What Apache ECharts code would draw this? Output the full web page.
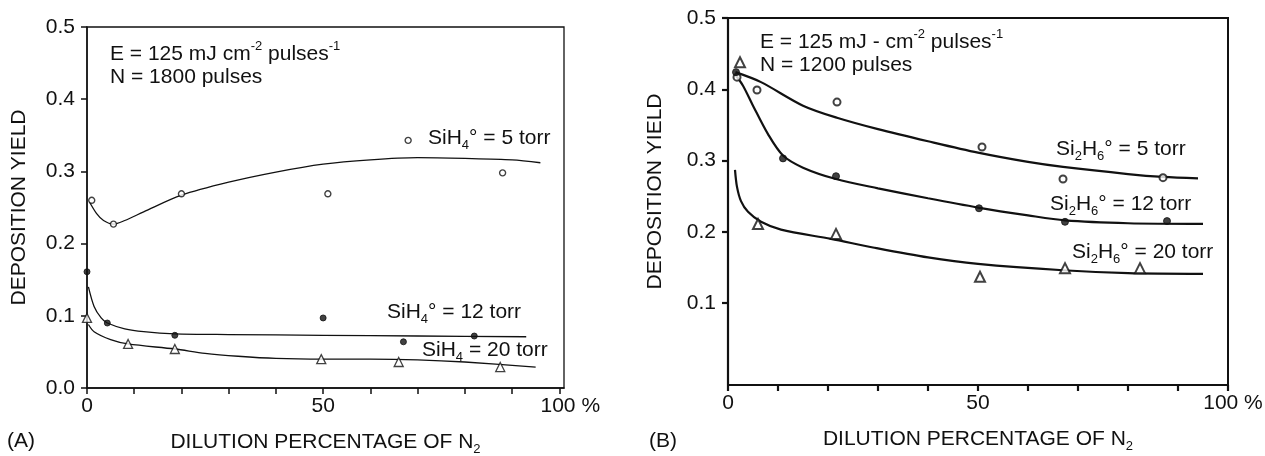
<!DOCTYPE html>
<html>
<head>
<meta charset="utf-8">
<script src="https://cdn.jsdelivr.net/npm/echarts@6/dist/echarts.min.js"></script>
<style>
  html, body { margin: 0; padding: 0; background: #fff; }
  #chart { width: 1265px; height: 456px; }
</style>
</head>
<body>
<div id="chart"></div>
<script>
// tick values
const xTicks = [0, 10, 20, 30, 40, 50, 60, 70, 80, 90, 100];
const xLabels = [0, 50, 100];
const yTicksA = [0, 0.1, 0.2, 0.3, 0.4, 0.5];
const yTicksB = [0.1, 0.2, 0.3, 0.4, 0.5];

// panel A - SiH4 (measured points and fitted curves)
const a5Pts = [[1, 0.260], [5.6, 0.227], [20, 0.269], [51, 0.269], [68, 0.343], [88, 0.298]];
const a5Fit = [[0.5, 0.258], [2, 0.242], [3.5, 0.232], [5.6, 0.227], [8, 0.232], [12, 0.244], [20, 0.267],
  [30, 0.285], [40, 0.299], [50, 0.310], [60, 0.316], [70, 0.319], [80, 0.318], [90, 0.316], [96, 0.312]];
const a12Pts = [[0, 0.161], [4.3, 0.090], [18.6, 0.073], [50, 0.097], [67, 0.064], [82, 0.072]];
const a12Fit = [[0.3, 0.140], [1.5, 0.113], [3, 0.097], [4.3, 0.090], [8, 0.082], [12, 0.078],
  [18.6, 0.075], [30, 0.074], [50, 0.073], [70, 0.072], [93, 0.071]];
const a20Pts = [[0, 0.097], [8.7, 0.061], [18.6, 0.054], [49.6, 0.040], [66, 0.036], [87.5, 0.029]];
const a20Fit = [[0.3, 0.088], [1.5, 0.078], [5, 0.067], [8.7, 0.061], [18.6, 0.054], [25, 0.048],
  [32, 0.044], [40, 0.041], [50, 0.040], [60, 0.040], [70, 0.039], [80, 0.036], [95, 0.029]];

// panel B - Si2H6
const b5Pts = [[1.8, 0.417], [5.8, 0.399], [21.8, 0.382], [50.8, 0.319], [67, 0.274], [87, 0.276]];
const b5Fit = [[1.5, 0.424], [6.6, 0.410], [15, 0.377], [21.8, 0.360], [30, 0.344], [40, 0.327],
  [50, 0.311], [60, 0.298], [67, 0.291], [80, 0.281], [87, 0.277], [94, 0.275]];
const b12Pts = [[1.6, 0.424], [11, 0.303], [21.6, 0.278], [50.2, 0.233], [67.4, 0.214], [87.8, 0.215]];
const b12Fit = [[1.5, 0.420], [3, 0.405], [5, 0.377], [8, 0.337], [11, 0.307], [15, 0.290], [21.6, 0.274],
  [30, 0.261], [40, 0.247], [50, 0.234], [60, 0.223], [67.4, 0.216], [80, 0.212], [95, 0.211]];
const b20Pts = [[2.4, 0.438], [6, 0.211], [21.6, 0.197], [50.4, 0.137], [67.4, 0.149], [82.4, 0.149]];
const b20Fit = [[1.4, 0.287], [1.8, 0.263], [2.6, 0.243], [4, 0.228], [6.6, 0.214], [10.6, 0.203],
  [20.6, 0.190], [29, 0.178], [40, 0.164], [50, 0.155], [67, 0.146], [80, 0.142], [95, 0.141]];

const INK = '#111';
const FONT = 'Liberation Sans, Arial, sans-serif';
const FS = 21;

const rich = {
  b: { fontSize: FS, lineHeight: 28, fontFamily: FONT, color: INK },
  sup: { fontSize: 13, lineHeight: 17, verticalAlign: 'top', fontFamily: FONT, color: INK },
  sub: { fontSize: 13, lineHeight: 8, verticalAlign: 'bottom', fontFamily: FONT, color: INK }
};

function note(x, y, text) {
  return {
    type: 'text', x: x, y: y, z: 10,
    style: { text: text, rich: rich, verticalAlign: 'middle', fontSize: FS, fontFamily: FONT, fill: INK }
  };
}

function fitLine(idx, data, w) {
  return {
    type: 'line', xAxisIndex: idx, yAxisIndex: idx, data: data, smooth: 0.3,
    showSymbol: false, lineStyle: { color: INK, width: w }, silent: true, z: 2
  };
}

function pts(idx, data, symbol, size, fill, bw) {
  return {
    type: 'scatter', xAxisIndex: idx, yAxisIndex: idx, data: data, symbol: symbol,
    symbolSize: size, itemStyle: { color: fill, borderColor: INK, borderWidth: bw }, z: 5
  };
}

function xAxisOf(gi, max, lw, pctPad) {
  return {
    type: 'value', gridIndex: gi, min: 0, max: max,
    name: '{n|DILUTION PERCENTAGE OF N}{s|2}', nameLocation: 'middle', nameGap: 40,
    nameTextStyle: {
      fontSize: FS, fontFamily: FONT, color: INK,
      rich: {
        n: { fontSize: FS, lineHeight: 28, fontFamily: FONT, color: INK },
        s: { fontSize: 13, lineHeight: 8, verticalAlign: 'bottom', fontFamily: FONT, color: INK }
      }
    },
    axisLine: { onZero: false, lineStyle: { color: INK, width: lw } },
    axisTick: { customValues: xTicks, length: 6, lineStyle: { color: INK, width: lw } },
    axisLabel: {
      customValues: xLabels, margin: 8, fontSize: FS, fontFamily: FONT, color: INK,
      formatter: v => v === 100 ? '{p|100 %}' : String(v),
      rich: { p: { fontSize: FS, fontFamily: FONT, color: INK, padding: [0, 0, 0, pctPad] } }
    },
    splitLine: { show: false }
  };
}

function yAxisOf(gi, min, ticks, gap, lw, namePad) {
  return {
    type: 'value', gridIndex: gi, min: min, max: 0.5,
    name: 'DEPOSITION YIELD', nameLocation: 'middle', nameGap: gap,
    nameTextStyle: { fontSize: FS, fontFamily: FONT, color: INK, padding: [0, 0, 0, namePad] },
    axisLine: { onZero: false, lineStyle: { color: INK, width: lw } },
    axisTick: { customValues: ticks, length: 6, lineStyle: { color: INK, width: lw } },
    axisLabel: {
      customValues: ticks, margin: 12, fontSize: FS, fontFamily: FONT, color: INK,
      formatter: v => v.toFixed(1)
    },
    splitLine: { show: false }
  };
}

const chart = echarts.init(document.getElementById('chart'));
chart.setOption({
  animation: false,
  backgroundColor: '#fff',
  grid: [
    { left: 87, top: 27, width: 477, height: 361, show: true, borderColor: INK, borderWidth: 1.3,
      backgroundColor: 'transparent', outerBoundsMode: 'none', containLabel: false },
    { left: 728, top: 18, width: 500, height: 367, show: true, borderColor: INK, borderWidth: 2,
      backgroundColor: 'transparent', outerBoundsMode: 'none', containLabel: false }
  ],
  xAxis: [xAxisOf(0, 101, 1.5, 22), xAxisOf(1, 100, 2.2, 10)],
  yAxis: [yAxisOf(0, 0, yTicksA, 57, 1.5, 0), yAxisOf(1, -0.015, yTicksB, 62, 2.2, 20)],
  series: [
    fitLine(0, a5Fit, 1.3), fitLine(0, a12Fit, 1.3), fitLine(0, a20Fit, 1.3),
    pts(0, a5Pts, 'circle', 6, '#fff', 1.4),
    pts(0, a12Pts, 'circle', 6, INK, 1),
    pts(0, a20Pts, 'triangle', 9, '#fff', 1.3),
    fitLine(1, b5Fit, 2.2), fitLine(1, b12Fit, 2.2), fitLine(1, b20Fit, 2.2),
    pts(1, b5Pts, 'circle', 7, '#fff', 2),
    pts(1, b12Pts, 'circle', 7, INK, 1),
    pts(1, b20Pts, 'triangle', 10, '#fff', 2)
  ],
  graphic: [
    note(110, 54, '{b|E = 125 mJ cm}{sup|-2}{b| pulses}{sup|-1}'),
    note(110, 77, '{b|N = 1800 pulses}'),
    note(428, 138, '{b|SiH}{sub|4}{b|° = 5 torr}'),
    note(387, 312, '{b|SiH}{sub|4}{b|° = 12 torr}'),
    note(422, 350, '{b|SiH}{sub|4}{b| = 20 torr}'),
    note(760, 42, '{b|E = 125 mJ - cm}{sup|-2}{b| pulses}{sup|-1}'),
    note(760, 65, '{b|N = 1200 pulses}'),
    note(1056, 149, '{b|Si}{sub|2}{b|H}{sub|6}{b|° = 5 torr}'),
    note(1050, 204, '{b|Si}{sub|2}{b|H}{sub|6}{b|° = 12 torr}'),
    note(1072, 252, '{b|Si}{sub|2}{b|H}{sub|6}{b|° = 20 torr}'),
    note(7, 441, '{b|(A)}'),
    note(649, 441, '{b|(B)}')
  ]
});
</script>
</body>
</html>
